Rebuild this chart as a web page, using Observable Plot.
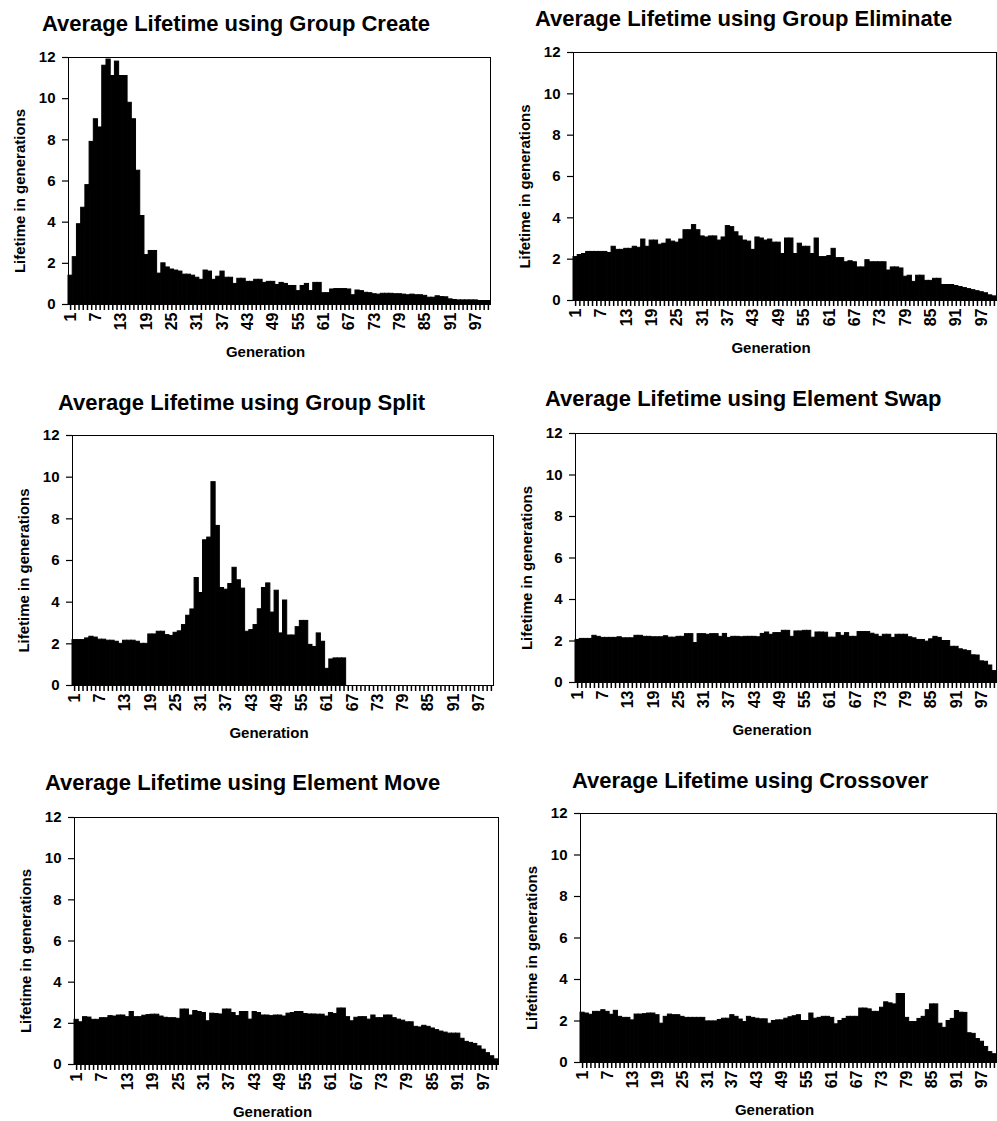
<!DOCTYPE html>
<html><head><meta charset="utf-8">
<script src="https://cdn.jsdelivr.net/npm/d3@7"></script>
<script src="https://cdn.jsdelivr.net/npm/@observablehq/plot@0.6"></script>
<style>
html,body{margin:0;padding:0;background:#fff;overflow:hidden;}
#root{position:relative;width:997px;height:1121px;background:#fff;}
.title{position:absolute;font-family:"Liberation Sans",Arial,sans-serif;font-weight:bold;font-size:22px;line-height:22px;white-space:nowrap;color:#000;}
.panel{position:absolute;}
</style></head>
<body><div id="root"></div>
<script>
const generations = d3.range(1, 101);
const xTickLabels = [1, 7, 13, 19, 25, 31, 37, 43, 49, 55, 61, 67, 73, 79, 85, 91, 97];
const yTicks = [0, 2, 4, 6, 8, 10, 12];
const yLabel = "Lifetime in generations";
const xLabel = "Generation";
const titles = [
  "Average Lifetime using Group Create",
  "Average Lifetime using Group Eliminate",
  "Average Lifetime using Group Split",
  "Average Lifetime using Element Swap",
  "Average Lifetime using Element Move",
  "Average Lifetime using Crossover"
];

const groupCreate = [1.4,2.3,3.9,4.7,5.8,7.9,9.0,8.6,11.6,11.9,
 11.1,11.8,11.1,11.1,9.8,9.0,6.5,4.3,2.4,2.6,
 2.6,1.5,2.0,1.8,1.7,1.65,1.6,1.45,1.45,1.4,
 1.3,1.2,1.65,1.6,1.2,1.35,1.6,1.3,1.3,1.0,
 1.25,1.25,1.1,1.1,1.2,1.2,1.05,1.1,1.1,0.95,
 1.05,1.0,0.9,0.9,0.65,0.9,1.0,0.65,1.05,1.05,
 0.55,0.55,0.73,0.75,0.75,0.75,0.73,0.45,0.68,0.65,
 0.57,0.55,0.5,0.48,0.52,0.52,0.52,0.5,0.5,0.48,
 0.45,0.48,0.45,0.45,0.42,0.33,0.33,0.4,0.36,0.35,
 0.25,0.22,0.2,0.2,0.2,0.2,0.2,0.17,0.17,0.17];

const groupEliminate = [2.1,2.2,2.25,2.35,2.35,2.35,2.35,2.35,2.3,2.6,
 2.45,2.45,2.5,2.5,2.6,2.55,2.95,2.6,2.9,2.9,
 2.7,2.75,2.95,2.85,2.8,2.95,3.4,3.4,3.65,3.4,
 3.1,3.05,3.1,3.1,2.9,3.05,3.6,3.55,3.3,3.1,
 2.9,2.85,2.45,3.05,3.0,2.9,2.95,2.8,2.8,2.25,
 3.0,3.0,2.25,2.75,2.6,2.6,2.25,3.0,2.1,2.1,
 2.15,2.5,2.05,2.05,1.85,1.9,1.85,1.6,1.6,1.95,
 1.85,1.85,1.85,1.85,1.45,1.6,1.6,1.55,1.15,1.2,
 0.9,1.2,1.2,0.95,0.95,1.05,1.05,0.75,0.75,0.75,
 0.7,0.65,0.6,0.55,0.5,0.45,0.4,0.35,0.25,0.2];

const groupSplit = [2.18,2.18,2.18,2.26,2.34,2.3,2.2,2.2,2.15,2.15,
 2.1,2.0,2.15,2.15,2.15,2.1,2.0,2.0,2.45,2.45,
 2.58,2.58,2.42,2.38,2.53,2.6,2.9,3.35,3.65,5.16,
 4.44,6.97,7.1,9.76,7.66,4.68,4.6,4.87,5.65,5.05,
 4.65,2.58,2.66,2.9,3.66,4.68,4.9,3.5,4.55,2.5,
 4.08,2.4,2.4,2.8,3.1,3.1,1.95,1.85,2.5,2.1,
 0.8,1.25,1.3,1.3,1.3,0,0,0,0,0,
 0,0,0,0,0,0,0,0,0,0,
 0,0,0,0,0,0,0,0,0,0,
 0,0,0,0,0,0,0,0,0,0];

const elementSwap = [2.05,2.1,2.1,2.1,2.25,2.2,2.15,2.15,2.15,2.15,
 2.18,2.13,2.13,2.13,2.25,2.25,2.2,2.2,2.18,2.18,
 2.18,2.23,2.16,2.16,2.2,2.2,2.33,2.33,1.9,2.33,
 2.33,2.3,2.33,2.33,2.2,2.34,2.15,2.2,2.2,2.18,
 2.2,2.2,2.2,2.18,2.34,2.41,2.3,2.38,2.38,2.49,
 2.49,2.2,2.46,2.46,2.49,2.49,2.16,2.41,2.41,2.4,
 2.16,2.16,2.38,2.25,2.38,2.2,2.2,2.43,2.43,2.43,
 2.35,2.3,2.2,2.3,2.3,2.15,2.3,2.3,2.3,2.18,
 2.13,2.05,2.05,1.97,2.08,2.2,2.15,2.0,2.0,1.72,
 1.72,1.6,1.55,1.51,1.31,1.3,1.02,1.0,0.82,0.55];

const elementMove = [2.17,2.05,2.3,2.28,2.17,2.17,2.25,2.25,2.35,2.33,
 2.38,2.38,2.3,2.55,2.3,2.3,2.37,2.4,2.42,2.42,
 2.33,2.27,2.25,2.25,2.22,2.67,2.67,2.38,2.6,2.55,
 2.5,2.1,2.47,2.45,2.43,2.67,2.67,2.5,2.35,2.55,
 2.55,2.18,2.55,2.5,2.38,2.38,2.35,2.38,2.38,2.33,
 2.47,2.5,2.55,2.55,2.45,2.43,2.43,2.42,2.42,2.33,
 2.5,2.45,2.72,2.72,2.3,2.1,2.27,2.3,2.3,2.18,
 2.38,2.25,2.25,2.38,2.38,2.25,2.18,2.13,2.05,2.05,
 1.83,1.8,1.88,1.83,1.75,1.67,1.6,1.55,1.5,1.5,
 1.5,1.25,1.1,1.05,1.0,0.88,0.72,0.55,0.4,0.25];

const crossover = [2.4,2.36,2.3,2.44,2.44,2.52,2.44,2.3,2.49,2.2,
 2.15,2.15,2.03,2.31,2.31,2.33,2.36,2.36,2.28,1.87,
 2.2,2.31,2.28,2.28,2.2,2.15,2.15,2.15,2.15,2.15,
 1.98,1.98,1.98,2.05,2.11,2.11,2.28,2.2,2.07,1.95,
 2.2,2.15,2.11,2.08,2.08,1.87,2.0,2.03,2.03,2.11,
 2.18,2.23,2.28,2.0,2.0,2.36,2.11,2.15,2.2,2.2,
 2.15,1.84,2.0,2.1,2.2,2.2,2.2,2.6,2.6,2.56,
 2.44,2.44,2.64,2.9,2.85,2.8,3.3,3.3,2.15,1.95,
 1.95,2.1,2.2,2.52,2.8,2.8,1.87,1.67,2.0,2.1,
 2.48,2.4,2.39,1.41,1.38,1.13,1.0,0.75,0.5,0.4];

// layout: plot frame edges and title placement per panel
const panels = [
  {title: titles[0], values: groupCreate,    L: 68,  R: 490, T: 57,  B: 304,  tx: 42,  tb: 32},
  {title: titles[1], values: groupEliminate, L: 573, R: 996, T: 52,  B: 300,  tx: 535, tb: 27},
  {title: titles[2], values: groupSplit,     L: 72,  R: 493, T: 435, B: 685,  tx: 58,  tb: 411},
  {title: titles[3], values: elementSwap,    L: 575, R: 996, T: 433, B: 682,  tx: 545, tb: 407},
  {title: titles[4], values: elementMove,    L: 74,  R: 498, T: 817, B: 1064, tx: 45,  tb: 791},
  {title: titles[5], values: crossover,      L: 580, R: 996, T: 813, B: 1062, tx: 572, tb: 789}
];

const root = document.getElementById("root");
const mL = 66, mR = 2, mT = 5, mB = 58;
const font = '"Liberation Sans", Arial, sans-serif';

for (const p of panels) {
  const t = document.createElement("div");
  t.className = "title";
  t.textContent = p.title;
  t.style.left = p.tx + "px";
  t.style.top = (p.tb - 18.6) + "px";
  root.appendChild(t);

  const data = generations.map((g, i) => ({gen: g, value: p.values[i]}));
  const chart = Plot.plot({
    width: mL + (p.R - p.L) + mR,
    height: mT + (p.B - p.T) + mB,
    marginLeft: mL, marginRight: mR, marginTop: mT, marginBottom: mB,
    style: {fontFamily: font, fontWeight: "bold", fontSize: "14px", color: "black", background: "white", overflow: "visible"},
    x: {type: "band", domain: generations, padding: 0, round: false, axis: null},
    y: {domain: [0, 12], axis: null},
    marks: [
      Plot.barY(data, {x: "gen", y: "value", fill: "black", stroke: "black", strokeWidth: 1}),
      Plot.frame({stroke: "black", strokeWidth: 1}),
      Plot.axisY({ticks: yTicks, tickSize: 6, tickPadding: 7, fontSize: 15, label: null, strokeWidth: 1.2}),
      Plot.axisX({ticks: generations, tickSize: 6, tickPadding: 2, tickRotate: -90,
        tickFormat: d => xTickLabels.includes(d) ? String(d) : "", fontSize: 16, label: null, strokeWidth: 1.5}),
      Plot.text([yLabel], {text: d => d, frameAnchor: "left", textAnchor: "middle", lineAnchor: "middle", dx: -48, dy: 10, rotate: -90, fontSize: 15, fontWeight: "bold"}),
      Plot.text([xLabel], {text: d => d, frameAnchor: "bottom", textAnchor: "middle", lineAnchor: "middle", dx: -14, dy: 48, fontSize: 15, fontWeight: "bold"})
    ]
  });
  chart.classList.add("panel");
  chart.style.left = (p.L - mL) + "px";
  chart.style.top = (p.T - mT) + "px";
  chart.style.maxWidth = "none";
  root.appendChild(chart);
}
</script>
</body></html>
